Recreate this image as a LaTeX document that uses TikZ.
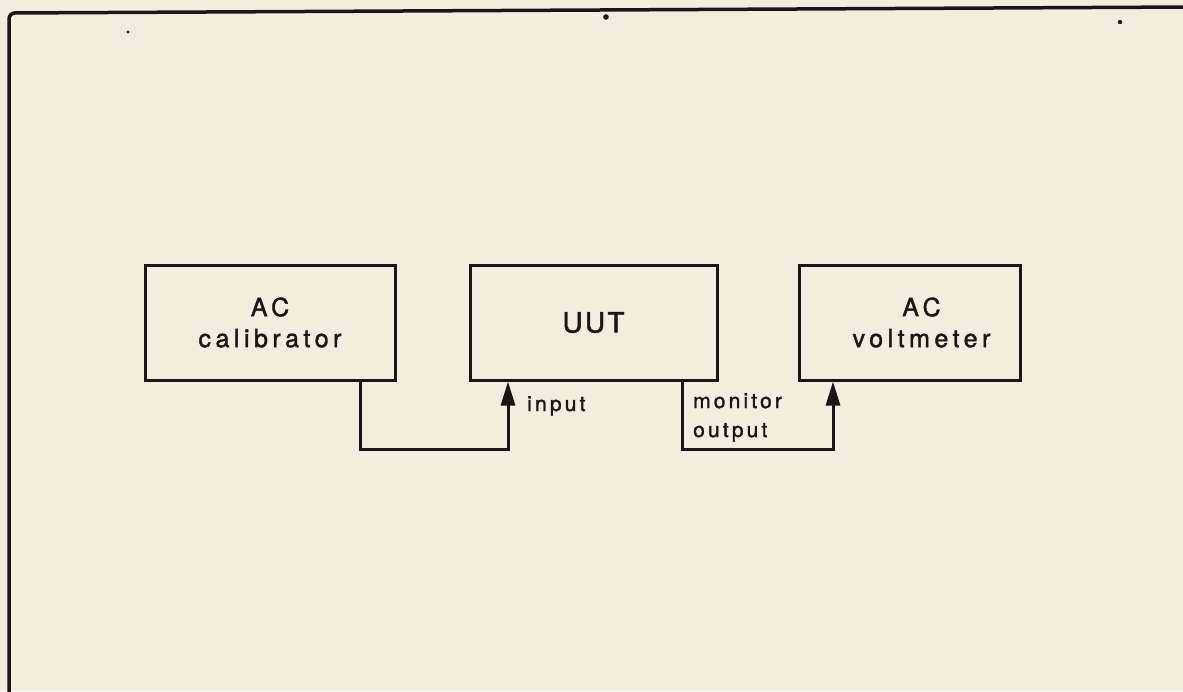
\documentclass[tikz,border=0pt]{standalone}
\usepackage{fontspec}
\setmainfont{TeX Gyre Heros}
\newfontfamily\boxfont[LetterSpace=18,FakeBold=1.6]{TeX Gyre Heros}
\newfontfamily\uutfont[LetterSpace=8,FakeBold=1.6]{TeX Gyre Heros}
\newfontfamily\lblfont[LetterSpace=15,FakeBold=1.4]{TeX Gyre Heros}
\usetikzlibrary{arrows.meta}
\definecolor{paper}{HTML}{F3EDE0}
\definecolor{ink}{HTML}{1E1418}
\tikzset{
  unitbox/.style={draw=ink, line width=3pt, rectangle, minimum height=115pt, inner sep=0pt, align=center, text=ink, font=\boxfont\fontsize{25}{31}\selectfont},
  conn/.style={draw=ink, line width=3pt},
  connarrow/.style={conn, -{Triangle[length=24pt,width=14pt]}},
  lbl/.style={inner sep=0pt, text=ink, font=\lblfont\fontsize{21}{29}\selectfont, align=left},
  frame/.style={draw=ink, line width=3.5pt, rounded corners=6pt},
  speck/.style={fill=ink, draw=none}
}
\begin{document}
\begin{tikzpicture}[x=1pt,y=-1pt]
\fill[paper] (0,0) rectangle (1183,691);
\useasboundingbox (0,0) rectangle (1183,691);
% outer frame (left and top edges)
\draw[frame] (9,695) -- (9,13) -- (1190,7);
% specks
\fill[speck] (128,32) circle (1.6pt);
\fill[speck] (606,17) circle (2.8pt);
\fill[speck] (1120,22) circle (2.2pt);
% boxes
\node[unitbox, minimum width=250pt] (calib) at (270,322.5) {AC\\calibrator};
\node[unitbox, minimum width=247pt, font=\uutfont\fontsize{28}{31}\selectfont] (uut) at (593.5,322.5) {UUT};
\node[unitbox, minimum width=221pt] (volt) at (909.5,322.5) {\hspace*{24pt}AC\\\hspace*{24pt}voltmeter};
% connectors
\coordinate (b1) at (508,449);
\coordinate (b2) at (833,449);
\draw[connarrow] ([xshift=-36pt]calib.south east) |- (b1) -- (b1 |- uut.south);
\draw[connarrow] ([xshift=88.5pt]uut.south) |- (b2) -- (b2 |- volt.south);
% labels
\node[lbl, anchor=base west] (inlbl) at (527,411) {input};
\node[lbl, anchor=north west] (monlbl) at (693,393) {monitor\\output};
\end{tikzpicture}
\end{document}
